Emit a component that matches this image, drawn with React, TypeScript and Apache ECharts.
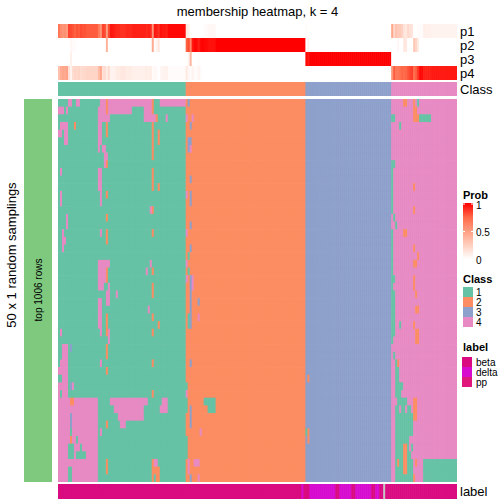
import React, { useEffect, useRef } from 'react';
import * as echarts from 'echarts';

// ---------------- data ----------------
const CLASS_SIZES = [64, 60, 43, 33]; // columns per consensus class (sorted)
const N_ROWS = 50; // 50 x 1 random samplings
const PROB_ROWS = ['p1', 'p2', 'p3', 'p4'];
const CLASS_NAMES = ['1', '2', '3', '4'];
const CLASS_COLORS = ['#66C2A5', '#FC8D62', '#8DA0CB', '#E78AC3'];
const LABEL_NAMES = ['beta', 'delta', 'pp'];
const LABEL_COLORS = ['#DA0A80', '#D70BD0', '#E0187C'];
const NA_COLOR = '#C4C4C4';
const PROB_COLORS = ['#FFFFFF', '#FFCFBF', '#FF9E81', '#FF6846', '#FF0000'];
const PROB_TICKS = ['1', '0.5', '0'];

// deviations from the column's class: [row, colStart, colEnd, class]
const FLIPS: number[][] = [
  [0,5,6,4],[0,9,10,4],[0,21,23,4],[0,24,24,2],[0,25,46,4],[0,47,47,2],[0,51,63,4],[0,65,65,3],[0,173,174,2],[0,178,178,2],[0,180,180,1],
  [1,0,2,4],[1,4,4,4],[1,20,36,4],[1,24,24,2],[1,43,46,4],[1,47,47,2],[1,178,179,2],
  [2,20,25,4],[2,43,48,4],[2,49,49,2],[2,54,54,4],[2,64,64,4],[2,67,67,4],[2,167,168,1],[2,178,180,2],[2,181,186,1],
  [3,1,4,4],[3,8,8,2],[3,20,21,4],[3,24,24,2],[3,47,47,2],[3,66,66,3],[3,171,171,1],
  [4,0,1,4],[4,3,4,4],[4,20,21,4],[4,24,24,2],[4,47,47,2],[4,50,50,2],
  [5,3,4,4],[5,20,21,4],[5,47,47,2],[5,50,50,2],[5,65,66,3],
  [6,20,20,4],[6,22,23,4],[6,47,47,2],[6,65,65,3],[6,66,66,4],
  [7,23,24,4],[7,47,47,2],
  [8,23,23,4],[8,24,24,2],[8,167,168,1],
  [9,1,1,4],[9,20,21,4],[9,47,47,2],[9,167,167,1],
  [10,20,21,4],[10,47,47,2],[10,66,66,3],[10,167,167,1],
  [11,20,21,4],[11,47,47,2],[11,50,50,2],[11,167,167,1],[11,178,178,2],
  [12,1,1,4],[12,21,21,4],[12,24,24,2],[12,64,64,4],[12,66,66,3],[12,167,167,1],
  [13,1,1,4],[13,21,21,4],[13,66,66,3],[13,167,167,1],
  [14,46,46,4],[14,47,47,2],[14,167,167,1],[14,178,178,2],
  [15,4,4,4],[15,24,24,2],[15,168,168,1],
  [16,4,4,4],[16,66,66,3],[16,169,169,1],
  [17,2,2,4],[17,21,21,4],[17,24,24,2],[17,47,47,2],[17,64,64,4],[17,167,167,1],[17,173,174,2],
  [18,2,3,4],[18,24,24,2],[18,167,167,1],
  [19,2,2,4],[19,66,66,3],[19,167,167,1],[19,178,178,2],
  [20,65,65,1],[20,167,167,1],[20,180,180,2],
  [21,20,25,4],[21,46,46,4],[21,64,64,4],[21,167,167,1],[21,178,179,2],
  [22,20,23,4],[22,24,24,2],[22,44,44,4],[22,47,47,2],[22,65,65,1],[22,167,167,1],
  [23,20,23,4],[23,24,24,2],[23,64,64,4],[23,66,66,3],[23,67,67,4],[23,167,168,1],[23,178,178,2],
  [24,20,22,4],[24,25,25,4],[24,47,47,2],[24,66,66,3],[24,67,67,4],[24,167,167,1],[24,178,178,2],
  [25,24,25,4],[25,29,29,4],[25,47,47,2],[25,66,66,3],[25,167,168,1],[25,179,179,2],
  [26,20,21,4],[26,24,25,4],[26,66,66,3],[26,70,70,3],[26,167,168,1],
  [27,20,21,4],[27,45,45,4],[27,66,66,3],[27,167,168,1],[27,179,180,2],
  [28,20,21,4],[28,24,24,2],[28,47,47,2],[28,65,65,1],[28,66,66,3],[28,70,70,4],[28,167,168,1],
  [29,20,21,4],[29,24,24,2],[29,50,50,2],[29,65,65,1],[29,66,66,3],[29,167,168,1],[29,171,171,1],[29,178,178,2],
  [30,1,1,4],[30,21,21,4],[30,24,24,2],[30,25,25,4],[30,47,47,2],[30,167,168,1],[30,179,180,2],
  [31,25,25,4],[31,167,167,1],[31,179,180,2],
  [32,2,4,4],[32,6,6,3],[32,24,24,2],
  [33,2,4,4],[33,24,24,2],[33,168,168,1],
  [34,1,4,4],[34,21,21,4],[34,47,47,2],[34,66,66,3],[34,169,169,1],[34,170,170,2],
  [35,0,4,4],[35,24,24,2],[35,169,170,1],
  [36,2,4,4],[36,125,125,2],[36,169,170,1],
  [37,0,4,4],[37,6,6,3],[37,7,7,4],[37,64,64,1],[37,169,172,1],
  [38,0,0,4],[38,2,4,4],[38,47,47,2],[38,64,64,4],[38,169,171,1],
  [39,0,19,4],[39,6,7,2],[39,26,44,4],[39,52,54,4],[39,64,64,1],[39,73,78,1],[39,170,174,1],[39,178,179,2],
  [40,0,19,4],[40,28,42,4],[40,51,54,4],[40,64,64,1],[40,66,66,3],[40,75,78,1],[40,169,170,1],[40,172,173,1],[40,175,176,1],[40,178,179,2],
  [41,0,19,4],[41,6,6,3],[41,30,42,4],[41,66,66,3],[41,169,177,1],[41,178,179,2],
  [42,0,19,4],[42,6,6,3],[42,24,24,2],[42,31,33,4],[42,66,66,3],[42,169,177,1],
  [43,0,19,4],[43,6,6,1],[43,21,21,4],[43,71,71,4],[43,124,124,1],[43,125,125,2],[43,169,177,1],
  [44,0,19,4],[44,6,6,2],[44,9,9,1],[44,64,64,1],[44,125,125,2],[44,169,175,1],
  [45,0,19,4],[45,5,7,1],[45,11,11,1],[45,64,64,1],[45,169,172,1],[45,173,174,2],[45,175,175,1],[45,177,177,1],
  [46,0,19,4],[46,5,7,1],[46,9,13,1],[46,64,64,1],[46,169,172,1],[46,173,174,2],[46,175,176,1],
  [47,0,19,4],[47,24,24,2],[47,47,47,2],[47,48,49,4],[47,65,65,4],[47,68,70,4],[47,169,169,1],[47,170,170,2],[47,171,172,1],[47,173,174,2],[47,175,177,1],[47,179,179,2],[47,183,199,1],
  [48,0,19,4],[48,5,6,1],[48,24,24,2],[48,47,50,2],[48,65,65,4],[48,169,172,1],[48,173,174,2],[48,175,177,1],[48,183,199,1],
  [49,0,19,4],[49,5,6,1],[49,47,47,2],[49,49,50,2],[49,66,66,3],[49,70,70,4],[49,169,177,1],[49,178,178,2],[49,183,199,1],
];

// sample labels: default beta (0); runs of [colStart, colEnd, label]; 3 = NA
const LABEL_RUNS: number[][] = [
  [122,122,1],[126,138,1],[141,146,1],[149,156,1],[159,160,1],[163,163,3],
];

// ---------------- derived tables ----------------
const N_COLS = CLASS_SIZES.reduce((a, b) => a + b, 0);
const colClass: number[] = [];
CLASS_SIZES.forEach((n, k) => { for (let i = 0; i < n; i++) colClass.push(k + 1); });

const matrix: number[][] = [];
for (let r = 0; r < N_ROWS; r++) matrix.push(colClass.slice());
FLIPS.forEach(([r, a, b, k]) => { for (let c = a; c <= b; c++) matrix[r][c] = k; });

const labels: number[] = colClass.map(() => 0);
LABEL_RUNS.forEach(([a, b, l]) => { for (let c = a; c <= b; c++) labels[c] = l; });

const probData: number[][] = [];
for (let k = 0; k < 4; k++) {
  for (let c = 0; c < N_COLS; c++) {
    let cnt = 0;
    for (let r = 0; r < N_ROWS; r++) if (matrix[r][c] === k + 1) cnt++;
    probData.push([c, k, cnt / N_ROWS]);
  }
}
const classData = colClass.map((k, c) => [c, 0, k]);
const mainData: number[][] = [];
for (let r = 0; r < N_ROWS; r++) for (let c = 0; c < N_COLS; c++) mainData.push([c, r, matrix[r][c]]);
const labelData = labels.map((l, c) => [c, 0, l]);

const FONT = '"Liberation Sans", Arial, Helvetica, sans-serif';
const colNames = colClass.map((_, i) => String(i));
const rowNames = matrix.map((_, i) => String(i));

const cellRenderer = (nCols: number, nRows: number) => (params: any, api: any) => {
  const c = api.value(0);
  const r = api.value(1);
  const pt = api.coord([c, r]);
  const sz = api.size([1, 1]);
  const w = sz[0] + (c < nCols - 1 ? 0.6 : 0);
  const h = sz[1] + (r < nRows - 1 ? 0.6 : 0);
  return {
    type: 'rect',
    shape: { x: pt[0] - sz[0] / 2, y: pt[1] - sz[1] / 2, width: w, height: h },
    style: { fill: api.visual('color') },
  };
};

const txt = (text: string, x: number, y: number, size: number, extra: any = {}) => ({
  type: 'text',
  x, y,
  rotation: extra.rotation || 0,
  style: {
    text, x: 0, y: 0, fill: '#000',
    fontSize: size, fontFamily: FONT, fontWeight: extra.bold ? 'bold' : 'normal',
    align: extra.align || 'left', verticalAlign: 'middle',
    textAlign: extra.align || 'left', textVerticalAlign: 'middle',
  },
});

export default function App() {
  const ref = useRef<HTMLDivElement>(null);
  useEffect(() => {
    if (!ref.current) return;
    const chart = echarts.init(ref.current, null, { renderer: 'svg' });

    const hiddenX = (gi: number) => ({ type: 'category', gridIndex: gi, data: colNames, show: false });
    const rightY = (gi: number, data: string[]) => ({
      type: 'category', gridIndex: gi, data, inverse: true, position: 'right',
      axisLine: { show: false }, axisTick: { show: false }, splitLine: { show: false },
      axisLabel: { show: true, interval: 0, color: '#000', fontSize: 13, fontFamily: FONT, margin: 3 },
    });

    const graphics: any[] = [];
    graphics.push(txt('membership heatmap, k = 4', 257.5, 11, 13, { align: 'center' }));
    graphics.push(txt('50 x 1 random samplings', 11, 255, 13, { align: 'center', rotation: Math.PI / 2 }));
    graphics.push({ type: 'rect', shape: { x: 24, y: 99, width: 28, height: 383 }, style: { fill: '#7FC97F' } });
    graphics.push(txt('top 1006 rows', 38, 290, 10, { align: 'center', rotation: Math.PI / 2 }));

    // Prob legend
    const LX = 463;
    graphics.push(txt('Prob', LX, 195, 11, { bold: true }));
    graphics.push({
      type: 'rect', shape: { x: LX, y: 203, width: 10, height: 56 },
      style: {
        fill: new echarts.graphic.LinearGradient(0, 0, 0, 1, PROB_COLORS.slice().reverse().map((c, i, arr) => ({ offset: i / (arr.length - 1), color: c }))),
      },
    });
    PROB_TICKS.forEach((t, i) => {
      const y = 204 + i * 27.5;
      graphics.push({ type: 'line', shape: { x1: LX, y1: y, x2: LX + 2, y2: y }, style: { stroke: '#fff', lineWidth: 1 } });
      graphics.push({ type: 'line', shape: { x1: LX + 8, y1: y, x2: LX + 10, y2: y }, style: { stroke: '#fff', lineWidth: 1 } });
      graphics.push(txt(t, LX + 13, y + 1, 10));
    });

    // Class legend
    graphics.push(txt('Class', LX, 279, 11, { bold: true }));
    CLASS_NAMES.forEach((n, i) => {
      const y = 287 + i * 10;
      graphics.push({ type: 'rect', shape: { x: LX, y, width: 10, height: 10 }, style: { fill: CLASS_COLORS[i] } });
      graphics.push(txt(n, LX + 13, y + 5, 10));
    });

    // label legend
    graphics.push(txt('label', LX, 347, 11, { bold: true }));
    LABEL_NAMES.forEach((n, i) => {
      const y = 357 + i * 10;
      graphics.push({ type: 'rect', shape: { x: LX - 1, y, width: 10, height: 10 }, style: { fill: LABEL_COLORS[i] } });
      graphics.push(txt(n, LX + 13, y + 5, 10));
    });

    chart.setOption({
      animation: false,
      backgroundColor: '#fff',
      grid: [
        { left: 58, top: 24, width: 399, height: 56 },
        { left: 58, top: 82, width: 399, height: 14 },
        { left: 58, top: 99, width: 399, height: 383 },
        { left: 58, top: 484, width: 399, height: 15 },
      ],
      xAxis: [hiddenX(0), hiddenX(1), hiddenX(2), hiddenX(3)],
      yAxis: [
        rightY(0, PROB_ROWS),
        rightY(1, ['Class']),
        { type: 'category', gridIndex: 2, data: rowNames, inverse: true, show: false },
        rightY(3, ['label']),
      ],
      visualMap: [
        { type: 'continuous', show: false, seriesIndex: 0, dimension: 2, min: 0, max: 1, inRange: { color: PROB_COLORS } },
        { type: 'piecewise', show: false, seriesIndex: [1, 2], dimension: 2,
          pieces: CLASS_COLORS.map((c, i) => ({ value: i + 1, color: c })) },
        { type: 'piecewise', show: false, seriesIndex: 3, dimension: 2,
          pieces: [...LABEL_COLORS.map((c, i) => ({ value: i, color: c })), { value: 3, color: NA_COLOR }] },
      ],
      series: [
        { type: 'custom', xAxisIndex: 0, yAxisIndex: 0, data: probData, encode: { x: 0, y: 1 },
          renderItem: cellRenderer(N_COLS, 4), progressive: 0, silent: true },
        { type: 'custom', xAxisIndex: 1, yAxisIndex: 1, data: classData, encode: { x: 0, y: 1 },
          renderItem: cellRenderer(N_COLS, 1), progressive: 0, silent: true },
        { type: 'custom', xAxisIndex: 2, yAxisIndex: 2, data: mainData, encode: { x: 0, y: 1 },
          renderItem: cellRenderer(N_COLS, N_ROWS), progressive: 0, silent: true },
        { type: 'custom', xAxisIndex: 3, yAxisIndex: 3, data: labelData, encode: { x: 0, y: 1 },
          renderItem: cellRenderer(N_COLS, 1), progressive: 0, silent: true },
      ],
      graphic: graphics,
    });
    return () => chart.dispose();
  }, []);

  return <div ref={ref} style={{ position: 'absolute', left: 0, top: 0, width: 504, height: 504 }} />;
}
